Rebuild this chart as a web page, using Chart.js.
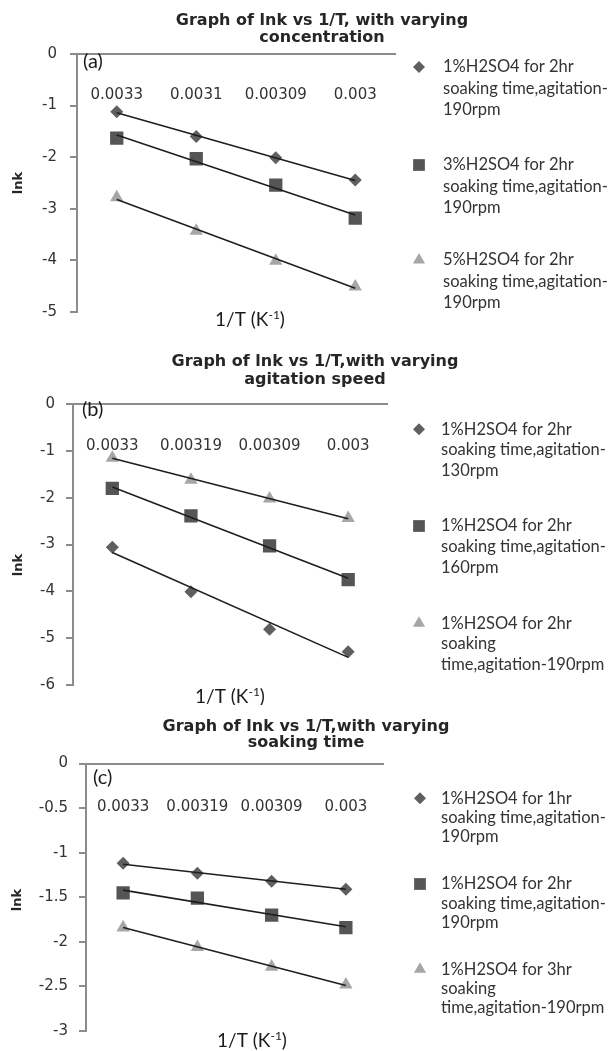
<!DOCTYPE html>
<html><head><meta charset="utf-8">
<script src="https://cdn.jsdelivr.net/npm/chart.js@4.4.1/dist/chart.umd.min.js"></script>
<style>
html,body{margin:0;padding:0;background:#fff;}
#wrap{position:relative;width:613px;height:1051px;overflow:hidden;background:#fff;}
canvas{position:absolute;left:0;}
</style></head><body>
<div id="wrap">
<canvas id="ca" width="613" height="345" style="top:0px"></canvas>
<canvas id="cb" width="613" height="360" style="top:345px"></canvas>
<canvas id="cc" width="613" height="346" style="top:705px"></canvas>
</div>
<script>
// ---------- data ----------
const categoriesA = ["0.0033", "0.0031", "0.00309", "0.003"];
const categoriesBC = ["0.0033", "0.00319", "0.00309", "0.003"];

// Panel (a): varying concentration
const a1pct = [-1.12, -1.60, -2.01, -2.44];
const a3pct = [-1.63, -2.03, -2.54, -3.18];
const a5pct = [-2.78, -3.43, -4.01, -4.51];
const a1pctTrend = [-1.14, -2.45];   // trendline ends
const a3pctTrend = [-1.57, -3.12];
const a5pctTrend = [-2.82, -4.54];

// Panel (b): varying agitation speed
const b130 = [-3.06, -4.01, -4.81, -5.29];
const b160 = [-1.80, -2.39, -3.03, -3.75];
const b190 = [-1.15, -1.62, -2.02, -2.44];
const b130Trend = [-3.17, -5.41];
const b160Trend = [-1.77, -3.72];
const b190Trend = [-1.16, -2.45];

// Panel (c): varying soaking time
const c1hr = [-1.12, -1.23, -1.32, -1.41];
const c2hr = [-1.45, -1.51, -1.70, -1.84];
const c3hr = [-1.84, -2.06, -2.28, -2.48];
const c1hrTrend = [-1.13, -1.41];
const c2hrTrend = [-1.42, -1.83];
const c3hrTrend = [-1.84, -2.49];

const legendA = [
  ["1%H2SO4 for 2hr", "soaking time,agitation-", "190rpm"],
  ["3%H2SO4 for 2hr", "soaking time,agitation-", "190rpm"],
  ["5%H2SO4 for 2hr", "soaking time,agitation-", "190rpm"]
];
const legendB = [
  ["1%H2SO4 for 2hr", "soaking time,agitation-", "130rpm"],
  ["1%H2SO4 for 2hr", "soaking time,agitation-", "160rpm"],
  ["1%H2SO4 for 2hr", "soaking", "time,agitation-190rpm"]
];
const legendC = [
  ["1%H2SO4 for 1hr", "soaking time,agitation-", "190rpm"],
  ["1%H2SO4 for 2hr", "soaking time,agitation-", "190rpm"],
  ["1%H2SO4 for 3hr", "soaking", "time,agitation-190rpm"]
];
const titleA = ["Graph of lnk vs 1/T, with varying", "concentration"];
const titleB = ["Graph of lnk vs 1/T,with varying", "agitation speed"];
const titleC = ["Graph of lnk vs 1/T,with varying", "soaking time"];

// ---------- styles ----------
const MARKERS = [
  {style: 'rectRot', radius: 6.5, color: '#5f5f5f', legendRadius: 6},
  {style: 'rect', radius: 9.4, color: '#555555', legendRadius: 8.3},
  {style: 'triangle', radius: 7.7, color: '#a6a6a6', legendRadius: 7}
];
const AXIS_GREY = '#8c8c8c';
const TEXT = '#333333';

function trendData(ends) { return [ends[0], null, null, ends[1]]; }

function drawMarker(ctx, style, x, y, r) {
  ctx.beginPath();
  if (style === 'rectRot') {
    ctx.moveTo(x, y - r); ctx.lineTo(x + r, y); ctx.lineTo(x, y + r); ctx.lineTo(x - r, y);
  } else if (style === 'rect') {
    const s = Math.SQRT1_2 * r; ctx.rect(x - s, y - s, 2 * s, 2 * s);
  } else {
    for (let i = 0; i < 3; i++) {
      const a = i * 2 * Math.PI / 3;
      const px = x + Math.sin(a) * r, py = y - Math.cos(a) * r;
      if (i === 0) ctx.moveTo(px, py); else ctx.lineTo(px, py);
    }
  }
  ctx.closePath(); ctx.fill();
}

const panelText = {
  id: 'panelText',
  afterDraw(chart, args, o) {
    const ctx = chart.ctx;
    ctx.save();
    ctx.textBaseline = 'middle';
    // chart title
    ctx.fillStyle = '#262626';
    ctx.font = 'bold 16px "DejaVu Sans"';
    ctx.textAlign = 'center';
    o.title.forEach((t, i) => ctx.fillText(t, o.titleX, o.titleY + i * o.titleLH));
    // panel tag
    ctx.font = '20px Lato';
    ctx.textAlign = 'left';
    ctx.fillStyle = '#1a1a1a';
    ctx.fillText(o.tag, o.tagX, o.tagY);
    // y axis title
    ctx.save();
    ctx.translate(o.yTitleX, o.yTitleY);
    ctx.rotate(-Math.PI / 2);
    ctx.font = 'bold 13px "DejaVu Sans"';
    ctx.textAlign = 'center';
    ctx.fillStyle = '#262626';
    ctx.fillText('lnk', 0, 0);
    ctx.restore();
    // x axis title with superscript
    const big = '19px Lato', small = '12px Lato';
    ctx.fillStyle = '#1a1a1a';
    ctx.font = big; const w1 = ctx.measureText('1/T (K').width; const w3 = ctx.measureText(')').width;
    ctx.font = small; const w2 = ctx.measureText('-1').width;
    let x = o.xTitleX - (w1 + w2 + w3) / 2;
    ctx.textAlign = 'left';
    ctx.font = big; ctx.fillText('1/T (K', x, o.xTitleY); x += w1;
    ctx.font = small; ctx.fillText('-1', x, o.xTitleY - 5); x += w2;
    ctx.font = big; ctx.fillText(')', x, o.xTitleY);
    // legend
    ctx.font = '16.5px Lato';
    chart.data.datasets.forEach(ds => {
      if (!ds.legendLines) return;
      const m = MARKERS[ds.markerIndex];
      const y0 = o.legendY[ds.markerIndex];
      ctx.fillStyle = m.color;
      drawMarker(ctx, m.style, o.legendMarkerX, y0, m.legendRadius);
      ctx.fillStyle = TEXT;
      ds.legendLines.forEach((t, i) => ctx.fillText(t, o.legendTextX, y0 + i * o.legendLH));
    });
    ctx.restore();
  }
};

function makePanel(id, cats, series, trends, legend, yMin, yStep, lay, txt) {
  const datasets = [];
  series.forEach((vals, i) => {
    const m = MARKERS[i];
    datasets.push({
      label: legend[i].join(' '),
      legendLines: legend[i],
      markerIndex: i,
      data: vals,
      showLine: false,
      pointStyle: m.style,
      pointRadius: m.radius,
      pointHoverRadius: m.radius,
      pointBackgroundColor: m.color,
      pointBorderColor: m.color,
      pointBorderWidth: 0,
      order: 1
    });
  });
  trends.forEach((ends, i) => {
    datasets.push({
      label: 'trend ' + i,
      data: trendData(ends),
      spanGaps: true,
      borderColor: '#1e1e1e',
      borderWidth: 1.6,
      pointRadius: 0,
      fill: false,
      order: 0
    });
  });
  new Chart(document.getElementById(id), {
    type: 'line',
    data: {labels: cats, datasets},
    options: {
      responsive: false,
      animation: false,
      devicePixelRatio: 1,
      events: [],
      layout: {padding: {left: 0, top: lay.top, right: lay.right, bottom: lay.bottom}},
      plugins: {legend: {display: false}, tooltip: {enabled: false}, panelText: txt},
      scales: {
        x: {
          type: 'category',
          offset: true,
          position: {y: 0},
          grid: {display: false},
          border: {display: true, color: AXIS_GREY, width: 2},
          ticks: {font: {family: 'DejaVu Sans', size: 15}, color: TEXT, padding: lay.xPad, maxRotation: 0, autoSkip: false}
        },
        y: {
          type: 'linear',
          position: 'left',
          min: yMin, max: 0,
          afterFit: s => { s.width = lay.left; },
          grid: {drawOnChartArea: false, tickLength: 7, color: AXIS_GREY, lineWidth: 2},
          border: {display: true, color: AXIS_GREY, width: 2},
          ticks: {stepSize: yStep, font: {family: 'DejaVu Sans', size: 15}, color: TEXT, padding: lay.yPad,
                  callback: v => String(Math.round(v * 10) / 10)}
        }
      }
    },
    plugins: [panelText]
  });
}

makePanel('ca', categoriesA, [a1pct, a3pct, a5pct], [a1pctTrend, a3pctTrend, a5pctTrend], legendA, -5, 1,
  {left: 77, top: 54, right: 218, bottom: 33, xPad: 24, yPad: 13},
  {title: titleA, titleX: 322, titleY: 21, titleLH: 17, tag: '(a)', tagX: 83, tagY: 62,
   yTitleX: 19, yTitleY: 183, xTitleX: 250, xTitleY: 320,
   legendMarkerX: 419, legendTextX: 443, legendY: [67, 165, 260], legendLH: 21.5});

makePanel('cb', categoriesBC, [b130, b160, b190], [b130Trend, b160Trend, b190Trend], legendB, -6, 1,
  {left: 73, top: 59, right: 225.5, bottom: 20, xPad: 25, yPad: 11},
  {title: titleB, titleX: 315, titleY: 17, titleLH: 18, tag: '(b)', tagX: 82, tagY: 65,
   yTitleX: 19, yTitleY: 220, xTitleX: 230, xTitleY: 352,
   legendMarkerX: 419, legendTextX: 441, legendY: [84.3, 181, 278.3], legendLH: 20.7});

makePanel('cc', categoriesBC, [c1hr, c2hr, c3hr], [c1hrTrend, c2hrTrend, c3hrTrend], legendC, -3, 0.5,
  {left: 86, top: 58.5, right: 230, bottom: 14.3, xPad: 26.5, yPad: 11},
  {title: titleC, titleX: 306, titleY: 22, titleLH: 16, tag: '(c)', tagX: 93, tagY: 73,
   yTitleX: 18, yTitleY: 195, xTitleX: 252, xTitleY: 336,
   legendMarkerX: 420, legendTextX: 441, legendY: [93.3, 179, 264.3], legendLH: 19.3});
</script>
</body></html>
